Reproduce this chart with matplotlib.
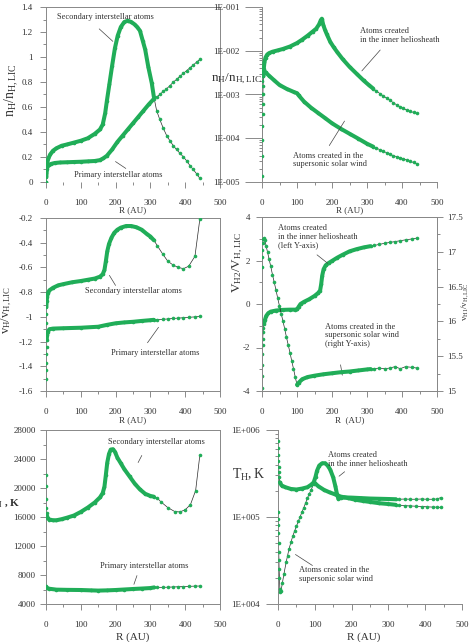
import matplotlib
matplotlib.use('Agg')
import matplotlib.pyplot as plt
from matplotlib.ticker import MultipleLocator, FixedLocator, FixedFormatter, LogLocator, NullFormatter, FormatStrFormatter

plt.rcParams['font.family'] = ['Liberation Serif', 'DejaVu Serif']
plt.rcParams['mathtext.fontset'] = 'custom'
plt.rcParams['mathtext.rm'] = 'Liberation Serif'
plt.rcParams['mathtext.it'] = 'Liberation Serif:italic'
plt.rcParams['axes.unicode_minus'] = False

GREEN = '#20ad58'
TXT = '#333333'

# ---- panel 1: density, linear scale ----
r1_sec = [0, 0.5, 1, 2, 4, 7, 12, 20, 30, 45, 60, 80, 100, 120, 140, 155, 163, 170, 175, 182, 190, 198,
          206, 215, 225, 235, 245, 255, 262, 270, 278, 285, 294, 304, 310,
          318, 327, 337, 347, 356, 366, 375, 385, 395, 404, 414, 423, 433, 442]
n1_sec = [0.0, 0.05, 0.09, 0.13, 0.16, 0.19, 0.22, 0.25, 0.27, 0.29, 0.30, 0.315, 0.33, 0.35, 0.385, 0.42, 0.46, 0.55, 0.65, 0.78, 0.93, 1.07,
          1.17, 1.24, 1.28, 1.29, 1.28, 1.26, 1.24, 1.21, 1.13, 1.06, 0.92, 0.79, 0.68,
          0.57, 0.50, 0.43, 0.37, 0.33, 0.29, 0.26, 0.23, 0.20, 0.17, 0.13, 0.10, 0.065, 0.03]
r1_pri = [0, 0.5, 1, 2, 4, 8, 15, 25, 40, 60, 80, 100, 120, 140, 155, 165, 175, 190, 205, 220, 235, 250, 265, 280, 295, 310,
          318, 327, 337, 346, 356, 366, 375, 385, 395, 404, 414, 423, 433, 442]
n1_pri = [0.0, 0.04, 0.07, 0.10, 0.12, 0.135, 0.145, 0.152, 0.156, 0.158, 0.16, 0.162, 0.165, 0.168, 0.175, 0.19, 0.21, 0.26, 0.32, 0.37, 0.42, 0.47, 0.52, 0.57, 0.62, 0.665,
          0.68, 0.70, 0.725, 0.745, 0.77, 0.80, 0.82, 0.845, 0.87, 0.89, 0.915, 0.935, 0.96, 0.98]

# ---- panel 2: density, log scale ----
r2_hs = [0, 0.3, 0.6, 1, 1.5, 2, 2.5, 3, 4, 5, 7, 10, 15, 20, 30, 45, 60, 80, 100, 115, 130, 145, 155, 163, 168, 171,
         175, 180, 185, 195, 205, 215, 230, 250, 270, 290, 305, 318,
         327, 337, 346, 356, 366, 375, 385, 395, 404, 414, 423, 433, 442]
n2_hs = [1.4e-5, 4e-5, 9e-5, 1.9e-4, 3.5e-4, 6e-4, 1e-3, 1.6e-3, 2.6e-3, 3.8e-3, 5.5e-3, 7e-3, 8.2e-3, 8.8e-3, 9.5e-3, 1.02e-2, 1.1e-2, 1.25e-2, 1.5e-2, 1.8e-2, 2.2e-2, 2.75e-2, 3.2e-2, 4.0e-2, 5.0e-2, 5.4e-2,
         3.9e-2, 3.0e-2, 2.4e-2, 1.6e-2, 1.2e-2, 9.3e-3, 6.5e-3, 4.3e-3, 3.0e-3, 2.1e-3, 1.65e-3, 1.36e-3,
         1.2e-3, 1.05e-3, 9.3e-4, 8.3e-4, 7.3e-4, 6.5e-4, 5.8e-4, 5.2e-4, 4.8e-4, 4.4e-4, 4.1e-4, 3.9e-4, 3.7e-4]
r2_ss = [0, 1, 2, 4, 6, 10, 20, 35, 50, 70, 90, 100, 105, 120, 140, 160, 180, 200, 225, 250, 275, 300, 318,
         327, 337, 346, 356, 366, 375, 385, 395, 404, 414, 423, 433, 442]
n2_ss = [1.0e-3, 2.0e-3, 2.8e-3, 3.4e-3, 3.5e-3, 3.2e-3, 2.7e-3, 2.1e-3, 1.65e-3, 1.35e-3, 1.15e-3, 1.07e-3, 9.5e-4, 6.9e-4, 5.0e-4, 3.8e-4, 2.9e-4, 2.2e-4, 1.65e-4, 1.27e-4, 9.8e-5, 7.5e-5, 6.4e-5,
         5.9e-5, 5.5e-5, 5.0e-5, 4.7e-5, 4.3e-5, 4.0e-5, 3.8e-5, 3.6e-5, 3.4e-5, 3.15e-5, 2.95e-5, 2.8e-5, 2.6e-5]

# ---- panel 3: velocity, secondary / primary ----
r3_sec = [0, 0.5, 1, 2, 3, 5, 10, 20, 35, 50, 75, 100, 120, 140, 155, 163, 168, 172, 176, 181, 188, 196,
          205, 215, 230, 245, 260, 275, 290, 300, 310,
          320, 335, 350, 365, 380, 395, 410, 428, 442]
v3_sec = [-1.05, -0.98, -0.92, -0.87, -0.84, -0.81, -0.785, -0.765, -0.745, -0.735, -0.72, -0.71, -0.70, -0.69, -0.675, -0.655, -0.62, -0.55, -0.47, -0.41, -0.36, -0.32,
          -0.295, -0.278, -0.265, -0.265, -0.275, -0.295, -0.33, -0.35, -0.38,
          -0.425, -0.49, -0.55, -0.58, -0.60, -0.61, -0.59, -0.51, -0.21]
r3_pri = [0, 0.3, 0.6, 1, 1.5, 2, 3, 5, 10, 20, 50, 100, 150, 175, 200, 225, 250, 275, 300, 310,
          320, 335, 350, 365, 380, 395, 410, 428, 442]
v3_pri = [-1.50, -1.43, -1.37, -1.30, -1.24, -1.19, -1.15, -1.12, -1.10, -1.095, -1.092, -1.088, -1.08, -1.065, -1.052, -1.045, -1.04, -1.033, -1.027, -1.024,
          -1.022, -1.02, -1.017, -1.013, -1.01, -1.007, -1.004, -1.0, -0.997]

# ---- panel 4: velocity, heliosheath (left) / supersonic (right) ----
r4_hs = [0, 0.3, 0.6, 1, 1.5, 2, 3, 4, 6, 8, 12, 18, 25, 40, 60, 80, 95, 100, 105, 110, 120, 135, 150, 160, 166, 169, 172,
         176, 182, 190, 200, 215, 230, 250, 270, 290, 310,
         320, 335, 350, 365, 380, 395, 410, 428, 442]
v4_hs = [-3.85, -3.3, -2.8, -2.3, -1.9, -1.6, -1.3, -1.1, -0.9, -0.75, -0.55, -0.42, -0.35, -0.3, -0.27, -0.26, -0.26, -0.25, -0.12, 0.0, 0.1, 0.22, 0.37, 0.5, 0.62, 0.9, 1.3,
         1.6, 1.78, 1.88, 1.98, 2.13, 2.26, 2.42, 2.52, 2.6, 2.66,
         2.69, 2.74, 2.79, 2.83, 2.87, 2.91, 2.95, 2.99, 3.03]
r4_ss = [0, 0.5, 1, 2, 3, 5, 8, 12, 16, 20, 25, 30, 35, 40, 45, 50, 55, 60, 65, 70, 75, 80, 85, 90, 95, 100,
         105, 115, 130, 150, 175, 200, 225, 250, 275, 300, 310,
         320, 335, 350, 365, 380, 395, 410, 428, 442]
v4_ss = [16.78, 16.92, 17.02, 17.12, 17.18, 17.2, 17.17, 17.08, 16.99, 16.9, 16.79, 16.67, 16.56, 16.45, 16.33, 16.22, 16.11, 16.0, 15.89, 15.77, 15.66, 15.55, 15.43, 15.32, 15.2, 15.09,
         15.12, 15.17, 15.2, 15.22, 15.24, 15.255, 15.27, 15.28, 15.295, 15.31, 15.315,
         15.32, 15.33, 15.32, 15.33, 15.35, 15.32, 15.35, 15.34, 15.33]

# ---- panel 5: temperature, secondary / primary ----
r5_sec = [0, 0.3, 0.6, 1, 1.5, 2.5, 5, 10, 20, 30, 45, 60, 80, 100, 120, 140, 155, 163, 168, 172, 176, 181, 186, 192,
          198, 205, 215, 225, 240, 255, 270, 285, 300, 310,
          320, 330, 350, 370, 385, 400, 415, 430, 442]
t5_sec = [21800, 20300, 18500, 17300, 16600, 16100, 15800, 15650, 15550, 15550, 15700, 15900, 16200, 16700, 17300, 18000, 18700, 19300, 20200, 21800, 23500, 24700, 25300, 25350,
          25000, 24200, 23400, 22600, 21600, 20600, 19800, 19200, 18900, 18800,
          18600, 18100, 17300, 16750, 16700, 17000, 17700, 19650, 24500]
r5_pri = [0, 0.5, 1, 3, 10, 30, 60, 100, 130, 150, 175, 200, 225, 250, 275, 300, 310,
          320, 335, 350, 365, 380, 395, 410, 428, 442]
t5_pri = [6550, 6400, 6300, 6200, 6100, 5980, 5950, 5930, 5880, 5850, 5880, 5930, 6000, 6070, 6130, 6200, 6280,
          6300, 6300, 6320, 6350, 6380, 6400, 6430, 6470, 6480]

# ---- panel 6: temperature, log scale ----
r6_hs = [0, 0.3, 0.6, 1, 1.5, 2, 3, 5, 10, 20, 35, 50, 65, 80, 90, 97, 102, 106, 112, 120, 128, 135, 142, 150, 156, 160, 164,
         170, 180, 200, 225, 250, 275, 300, 320,
         330, 345, 360, 375, 390, 405, 420, 432, 442]
t6_hs = [7.5e5, 6.2e5, 5.2e5, 4.4e5, 3.8e5, 3.3e5, 2.9e5, 2.5e5, 2.3e5, 2.2e5, 2.1e5, 2.07e5, 2.12e5, 2.2e5, 2.35e5, 2.5e5, 2.9e5, 3.4e5, 3.9e5, 4.15e5, 4.15e5, 3.9e5, 3.5e5, 2.85e5, 2.25e5, 1.85e5, 1.62e5,
         1.65e5, 1.68e5, 1.67e5, 1.65e5, 1.63e5, 1.62e5, 1.61e5, 1.6e5,
         1.6e5, 1.61e5, 1.6e5, 1.6e5, 1.61e5, 1.6e5, 1.6e5, 1.61e5, 1.67e5]
r6_ss = [0, 0.3, 0.6, 1, 1.5, 2, 2.5, 3, 4, 5, 6, 8, 12, 16, 22, 26, 30, 35, 40, 45, 50, 55, 60, 65, 70, 75, 80, 85, 90, 97,
         100, 110, 125, 140, 155, 170, 190, 210, 230, 250, 275, 300, 320,
         330, 345, 360, 375, 390, 405, 420, 432, 442]
t6_ss = [1.15e5, 9.5e4, 8e4, 6.5e4, 5e4, 4e4, 3.2e4, 2.5e4, 2e4, 1.5e4, 1.38e4, 1.4e4, 1.75e4, 2.2e4, 3.0e4, 3.6e4, 4.3e4, 5.1e4, 6.0e4, 6.9e4, 7.8e4, 8.9e4, 1.0e5, 1.14e5, 1.28e5, 1.45e5, 1.65e5, 1.85e5, 2.05e5, 2.4e5,
         2.45e5, 2.25e5, 2.05e5, 1.92e5, 1.82e5, 1.72e5, 1.65e5, 1.58e5, 1.53e5, 1.49e5, 1.44e5, 1.41e5, 1.38e5,
         1.36e5, 1.35e5, 1.34e5, 1.33e5, 1.32e5, 1.31e5, 1.3e5, 1.3e5, 1.29e5]


def curve(ax, r, v, band=None):
    # thin black line, thick green band where the original markers are dense, then markers
    ax.plot(r, v, color='#2a2a2a', lw=0.5, zorder=2)
    if band:
        rb = [a for a in r if band[0] <= a <= band[1]]
        vb = [b for a, b in zip(r, v) if band[0] <= a <= band[1]]
        ax.plot(rb, vb, color=GREEN, lw=2.9, solid_capstyle='round', solid_joinstyle='round', zorder=3)
    ax.plot(r, v, 'o', color=GREEN, ms=2.6, mec='none', zorder=4)


def setup(ax, box=True, ypad=4):
    ax.set_xlim(0, 500)
    ax.xaxis.set_major_locator(MultipleLocator(100))
    ax.xaxis.set_minor_locator(MultipleLocator(50))
    ax.tick_params(which='both', direction='out', color='#777777', width=0.6,
                   labelsize=6.5, labelcolor=TXT, top=False, right=False)
    ax.tick_params(which='major', length=4.5)
    ax.tick_params(which='minor', length=2.5)
    ax.tick_params(axis='x', pad=8)
    ax.tick_params(axis='y', pad=ypad)
    for s in ax.spines.values():
        s.set_color('#888888')
        s.set_linewidth(0.7)
    if not box:
        ax.spines['top'].set_visible(False)
        ax.spines['right'].set_visible(False)


def note(ax, s, x, y, ha='left'):
    ax.text(x, y, s, fontsize=6, color=TXT, ha=ha, va='center', linespacing=1.1, zorder=5)


def lead(ax, p0, p1):
    ax.annotate('', xy=p1, xytext=p0, arrowprops=dict(arrowstyle='-', lw=0.5, color='#444444'), zorder=5)


W, H = 469, 642


def pos(l, r, t, b):
    return [l / W, 1 - b / H, (r - l) / W, (b - t) / H]


def ftext(x, y, s, **kw):
    fig.text(x / W, 1 - y / H, s, color=TXT, **kw)


fig = plt.figure(figsize=(4.69, 6.42), dpi=100)

# panel 1
ax1 = fig.add_axes(pos(46, 220, 7, 182))
setup(ax1, ypad=5)
ax1.spines['bottom'].set_visible(False)
curve(ax1, r1_sec, n1_sec, band=(0.5, 310))
curve(ax1, r1_pri, n1_pri, band=(0.5, 310))
ax1.set_ylim(0, 1.4)
ax1.yaxis.set_major_locator(MultipleLocator(0.2))
ax1.yaxis.set_minor_locator(MultipleLocator(0.1))
ax1.yaxis.set_major_formatter(FormatStrFormatter('%g'))
note(ax1, 'Secondary interstellar atoms', 172, 1.32, ha='center')
lead(ax1, (147, 1.24), (198, 1.11))
note(ax1, 'Primary interstellar atoms', 207, 0.056, ha='center')
lead(ax1, (193, 0.176), (236, 0.096))
ftext(12, 90, r'$\mathrm{n_H/n_{H,LIC}}$', fontsize=10, rotation=90, ha='center', va='center')
ftext(133, 210, 'R (AU)', fontsize=6.5, ha='center', va='center')

# panel 2
ax2 = fig.add_axes(pos(262, 437, 7, 182))
setup(ax2, box=False, ypad=8)
ax2.set_yscale('log')
curve(ax2, r2_hs, n2_hs, band=(4, 318))
curve(ax2, r2_ss, n2_ss, band=(3, 318))
ax2.set_ylim(1e-5, 1e-1)
ax2.yaxis.set_major_locator(FixedLocator([1e-5, 1e-4, 1e-3, 1e-2, 1e-1]))
ax2.yaxis.set_major_formatter(FixedFormatter(['1E-005', '1E-004', '1E-003', '1E-002', '1E-001']))
ax2.yaxis.set_minor_locator(LogLocator(base=10, subs=range(2, 10)))
ax2.yaxis.set_minor_formatter(NullFormatter())
ax2.tick_params(axis='y', which='major', length=12, pad=4)
note(ax2, 'Atoms created\nin the inner heliosheath', 280, 2.2e-2)
lead(ax2, (343, 1.16e-2), (280, 3.1e-3))
note(ax2, 'Atoms created in the\nsupersonic solar wind', 89, 3.2e-5)
lead(ax2, (188, 6e-5), (240, 2.8e-4))
ftext(262, 79, r'$\mathrm{n_H/n_{H,LIC}}$', fontsize=9.5, ha='right', va='center')
ftext(350, 210, 'R (AU)', fontsize=6.5, ha='center', va='center')

# panel 3
ax3 = fig.add_axes(pos(46, 220, 218, 391))
setup(ax3, ypad=5)
curve(ax3, r3_sec, v3_sec, band=(1, 310))
curve(ax3, r3_pri, v3_pri, band=(2, 310))
ax3.set_ylim(-1.6, -0.2)
ax3.yaxis.set_major_locator(MultipleLocator(0.2))
ax3.yaxis.set_minor_locator(MultipleLocator(0.1))
ax3.yaxis.set_major_formatter(FormatStrFormatter('%g'))
note(ax3, 'Secondary interstellar atoms', 250, -0.79, ha='center')
lead(ax3, (178, -0.645), (204, -0.765))
note(ax3, 'Primary interstellar atoms', 313, -1.29, ha='center')
lead(ax3, (287, -1.228), (328, -1.066))
ftext(7, 310, r'$\mathrm{v_H/v_{H,LIC}}$', fontsize=9, rotation=90, ha='center', va='center')
ftext(133, 420, 'R (AU)', fontsize=6.5, ha='center', va='center')

# panel 4
ax4 = fig.add_axes(pos(262, 437, 217, 391))
setup(ax4, ypad=4)
curve(ax4, r4_hs, v4_hs, band=(5, 310))
ax4.set_ylim(-4, 4)
ax4.yaxis.set_major_locator(MultipleLocator(2))
ax4.yaxis.set_minor_locator(MultipleLocator(1))
ax4.yaxis.set_major_formatter(FormatStrFormatter('%g'))
ax4r = ax4.twinx()
ax4r.set_position(pos(262, 437, 217, 391))
curve(ax4r, r4_ss, v4_ss, band=(100, 310))
ax4r.set_ylim(15, 17.5)
ax4r.yaxis.set_major_locator(MultipleLocator(0.5))
ax4r.yaxis.set_minor_locator(MultipleLocator(0.25))
ax4r.yaxis.set_major_formatter(FormatStrFormatter('%g'))
ax4r.tick_params(which='both', direction='out', color='#777777', width=0.6, labelsize=6.5, labelcolor=TXT, pad=3)
ax4r.tick_params(which='major', length=4)
ax4r.tick_params(which='minor', length=2.5)
for s in ax4r.spines.values():
    s.set_color('#888888')
    s.set_linewidth(0.7)
note(ax4, 'Atoms created\nin the inner heliosheath\n(left Y-axis)', 46, 3.1)
lead(ax4, (151, 2.34), (194, 1.79))
note(ax4, 'Atoms created in the\nsupersonic solar wind\n(right Y-axis)', 180, -1.43)
lead(ax4, (223, -2.67), (231, -3.4))
ftext(238, 262, r'$\mathrm{V_{H2}/V_{H,LIC}}$', fontsize=9.5, rotation=90, ha='center', va='center')
ftext(465.5, 302, r'$\mathrm{v_{H1}/v_{H,LIC}}$', fontsize=6.5, rotation=90, ha='center', va='center')
ftext(350, 420, 'R  (AU)', fontsize=6.5, ha='center', va='center')

# panel 5
ax5 = fig.add_axes(pos(46, 220, 430, 604))
setup(ax5, ypad=3)
curve(ax5, r5_sec, t5_sec, band=(2, 310))
curve(ax5, r5_pri, t5_pri, band=(1, 310))
ax5.set_ylim(4000, 28000)
ax5.yaxis.set_major_locator(MultipleLocator(4000))
ax5.yaxis.set_minor_locator(MultipleLocator(2000))
note(ax5, 'Secondary interstellar atoms', 318, 26350, ha='center')
lead(ax5, (279, 24830), (261, 23170))
note(ax5, 'Primary interstellar atoms', 282, 9240, ha='center')
lead(ax5, (264, 8280), (250, 6350))
ftext(20, 503, r'T$_\mathrm{H}$ , K', fontsize=8, fontweight='bold', ha='right', va='center')
ftext(133, 637, 'R (AU)', fontsize=8, ha='center', va='center')

# panel 6
ax6 = fig.add_axes(pos(278, 462, 430, 604))
setup(ax6, box=False, ypad=8)
ax6.set_yscale('log')
curve(ax6, r6_hs, t6_hs, band=(5, 320))
curve(ax6, r6_ss, t6_ss, band=(97, 320))
ax6.set_ylim(1e4, 1e6)
ax6.yaxis.set_major_locator(FixedLocator([1e4, 1e5, 1e6]))
ax6.yaxis.set_major_formatter(FixedFormatter(['1E+004', '1E+005', '1E+006']))
ax6.yaxis.set_minor_locator(LogLocator(base=10, subs=range(2, 10)))
ax6.yaxis.set_minor_formatter(NullFormatter())
ax6.tick_params(axis='y', which='major', length=9, pad=4)
note(ax6, 'Atoms created\nin the inner heliosheath', 136, 4.6e5)
lead(ax6, (187, 3.47e5), (160, 2.81e5))
note(ax6, 'Atoms created in the\nsupersonic solar wind', 57, 2.2e4)
lead(ax6, (100, 2.66e4), (41, 3.86e4))
ftext(249, 475, r'$\mathrm{T_H,K}$', fontsize=10, ha='center', va='center')
ftext(364, 637, 'R (AU)', fontsize=8, ha='center', va='center')

fig.savefig('out.png', dpi=100)
